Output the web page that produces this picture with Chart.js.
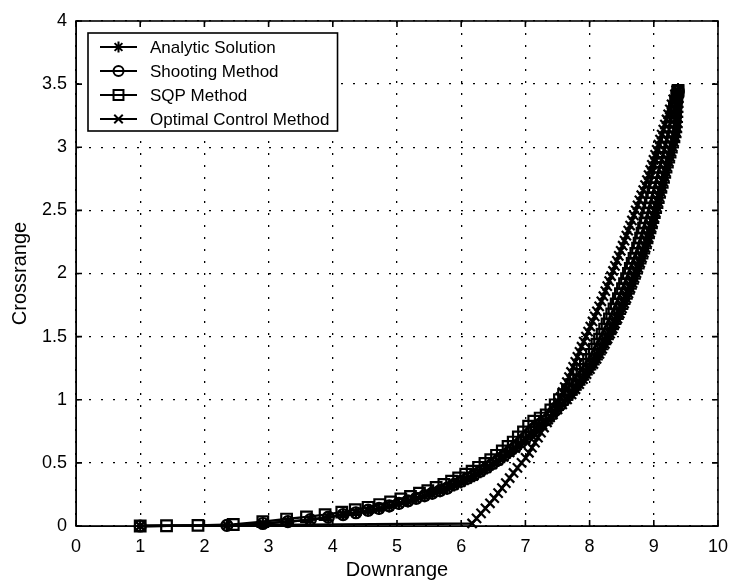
<!DOCTYPE html>
<html>
<head>
<meta charset="utf-8">
<script src="https://cdn.jsdelivr.net/npm/chart.js@4.4.1/dist/chart.umd.min.js"></script>
<style>
  html, body { margin: 0; padding: 0; background: #fff; }
  #wrap { width: 730px; height: 586px; }
</style>
</head>
<body>
<div id="wrap"><canvas id="c" width="730" height="586"></canvas></div>
<script>
// ---- data ----
const seriesNames = ['Analytic Solution', 'Shooting Method', 'SQP Method', 'Optimal Control Method'];

const analyticX = [1.00, 2.35, 2.91, 3.30, 3.65, 3.93, 4.16, 4.36, 4.55, 4.72, 4.88, 5.03, 5.17, 5.30, 5.43, 5.55, 5.67, 5.78, 5.89, 6.00, 6.10, 6.20, 6.30, 6.40, 6.49, 6.58, 6.67, 6.76, 6.85, 6.93, 7.01, 7.09, 7.17, 7.27,
  7.360, 7.434, 7.506, 7.579, 7.655, 7.724, 7.785, 7.844, 7.902, 7.957, 8.011, 8.064, 8.114, 8.159, 8.202, 8.244, 8.285, 8.325, 8.364, 8.402, 8.439, 8.475, 8.510, 8.544, 8.578, 8.610, 8.642, 8.674, 8.705, 8.735, 8.764, 8.793, 8.822, 8.850, 8.877, 8.901, 8.924, 8.947, 8.970, 8.992, 9.014, 9.035, 9.056, 9.076, 9.096, 9.117, 9.138, 9.158, 9.177, 9.197, 9.218, 9.239, 9.260, 9.280, 9.300, 9.320, 9.339, 9.350, 9.358, 9.362, 9.366, 9.369, 9.371, 9.373, 9.375, 9.379, 9.378];
const analyticY = [0.00, 0.005, 0.02, 0.035, 0.05, 0.07, 0.09, 0.105, 0.12, 0.135, 0.155, 0.175, 0.195, 0.215, 0.235, 0.255, 0.275, 0.295, 0.32, 0.345, 0.37, 0.395, 0.425, 0.455, 0.485, 0.515, 0.545, 0.58, 0.615, 0.65, 0.685, 0.72, 0.76, 0.80,
  0.84, 0.88, 0.92, 0.96, 1.00, 1.04, 1.08, 1.12, 1.16, 1.20, 1.24, 1.28, 1.32, 1.36, 1.40, 1.44, 1.48, 1.52, 1.56, 1.60, 1.64, 1.68, 1.72, 1.76, 1.80, 1.84, 1.88, 1.92, 1.96, 2.00, 2.04, 2.08, 2.12, 2.16, 2.20, 2.24, 2.28, 2.32, 2.36, 2.40, 2.44, 2.48, 2.52, 2.56, 2.60, 2.64, 2.68, 2.72, 2.76, 2.80, 2.84, 2.88, 2.92, 2.96, 3.00, 3.04, 3.08, 3.12, 3.16, 3.20, 3.24, 3.28, 3.32, 3.36, 3.40, 3.44, 3.45];

const shootingX = [1.00, 2.35, 2.91, 3.30, 3.65, 3.93, 4.16, 4.36, 4.55, 4.72, 4.88, 5.03, 5.17, 5.30, 5.43, 5.55, 5.67, 5.78, 5.89, 6.00, 6.10, 6.20, 6.30, 6.40, 6.49, 6.58, 6.67, 6.76, 6.85, 6.93, 7.01, 7.09, 7.17, 7.25,
  7.330, 7.404, 7.476, 7.544, 7.610, 7.674, 7.735, 7.794, 7.852, 7.907, 7.961, 8.014, 8.064, 8.109, 8.152, 8.194, 8.235, 8.275, 8.314, 8.352, 8.389, 8.425, 8.460, 8.494, 8.528, 8.560, 8.592, 8.624, 8.655, 8.685, 8.714, 8.743, 8.772, 8.800, 8.827, 8.851, 8.874, 8.897, 8.920, 8.942, 8.964, 8.985, 9.006, 9.026, 9.046, 9.067, 9.088, 9.108, 9.127, 9.147, 9.168, 9.189, 9.210, 9.230, 9.250, 9.270, 9.289, 9.308, 9.317, 9.326, 9.335, 9.343, 9.351, 9.359, 9.367, 9.379, 9.378];
const shootingY = [0.00, 0.005, 0.02, 0.035, 0.05, 0.07, 0.09, 0.105, 0.125, 0.14, 0.16, 0.18, 0.20, 0.22, 0.24, 0.26, 0.28, 0.30, 0.33, 0.355, 0.38, 0.405, 0.435, 0.465, 0.495, 0.525, 0.56, 0.595, 0.63, 0.665, 0.70, 0.74, 0.78, 0.81,
  0.84, 0.88, 0.92, 0.96, 1.00, 1.04, 1.08, 1.12, 1.16, 1.20, 1.24, 1.28, 1.32, 1.36, 1.40, 1.44, 1.48, 1.52, 1.56, 1.60, 1.64, 1.68, 1.72, 1.76, 1.80, 1.84, 1.88, 1.92, 1.96, 2.00, 2.04, 2.08, 2.12, 2.16, 2.20, 2.24, 2.28, 2.32, 2.36, 2.40, 2.44, 2.48, 2.52, 2.56, 2.60, 2.64, 2.68, 2.72, 2.76, 2.80, 2.84, 2.88, 2.92, 2.96, 3.00, 3.04, 3.08, 3.12, 3.16, 3.20, 3.24, 3.28, 3.32, 3.36, 3.40, 3.44, 3.45];

const sqpX = [1.00, 1.41, 1.90, 2.45, 2.91, 3.28, 3.59, 3.88, 4.14, 4.35, 4.55, 4.73, 4.90, 5.06, 5.21, 5.35, 5.48, 5.61, 5.73, 5.85, 5.96, 6.07, 6.17, 6.27, 6.37, 6.46, 6.55, 6.64, 6.73, 6.81, 6.89, 6.97, 7.05, 7.13, 7.23,
  7.324, 7.396, 7.464, 7.530, 7.594, 7.655, 7.714, 7.772, 7.827, 7.881, 7.934, 7.984, 8.029, 8.072, 8.114, 8.155, 8.195, 8.234, 8.272, 8.309, 8.345, 8.380, 8.414, 8.448, 8.480, 8.512, 8.544, 8.575, 8.605, 8.634, 8.663, 8.692, 8.720, 8.747, 8.771, 8.794, 8.817, 8.840, 8.862, 8.884, 8.905, 8.926, 8.946, 8.966, 8.987, 9.008, 9.028, 9.047, 9.067, 9.088, 9.109, 9.130, 9.150, 9.170, 9.190, 9.209, 9.228, 9.247, 9.266, 9.285, 9.303, 9.321, 9.339, 9.357, 9.374, 9.378];
const sqpY = [0.00, 0.002, 0.005, 0.012, 0.035, 0.055, 0.072, 0.09, 0.11, 0.13, 0.148, 0.17, 0.19, 0.215, 0.235, 0.26, 0.28, 0.305, 0.33, 0.355, 0.38, 0.41, 0.435, 0.465, 0.495, 0.525, 0.56, 0.595, 0.63, 0.665, 0.705, 0.745, 0.79, 0.83, 0.855,
  0.88, 0.92, 0.96, 1.00, 1.04, 1.08, 1.12, 1.16, 1.20, 1.24, 1.28, 1.32, 1.36, 1.40, 1.44, 1.48, 1.52, 1.56, 1.60, 1.64, 1.68, 1.72, 1.76, 1.80, 1.84, 1.88, 1.92, 1.96, 2.00, 2.04, 2.08, 2.12, 2.16, 2.20, 2.24, 2.28, 2.32, 2.36, 2.40, 2.44, 2.48, 2.52, 2.56, 2.60, 2.64, 2.68, 2.72, 2.76, 2.80, 2.84, 2.88, 2.92, 2.96, 3.00, 3.04, 3.08, 3.12, 3.16, 3.20, 3.24, 3.28, 3.32, 3.36, 3.40, 3.44, 3.45];

const optimalX = [1.00, 6.170, 6.239, 6.309, 6.378, 6.448, 6.515, 6.575, 6.635, 6.695, 6.755, 6.815, 6.876, 6.940, 7.004, 7.055, 7.102, 7.149, 7.196, 7.243, 7.290, 7.337, 7.384, 7.431, 7.478, 7.515, 7.547, 7.580, 7.613, 7.646, 7.679, 7.711, 7.744, 7.777, 7.810, 7.843, 7.875, 7.909, 7.943, 7.977, 8.011, 8.046, 8.080, 8.114, 8.149, 8.183, 8.215, 8.245, 8.275, 8.305, 8.335, 8.365, 8.395, 8.425, 8.455, 8.485, 8.515, 8.544, 8.573, 8.602, 8.631, 8.660, 8.689, 8.718, 8.747, 8.776, 8.805, 8.835, 8.864, 8.893, 8.919, 8.945, 8.970, 8.995, 9.021, 9.046, 9.072, 9.097, 9.123, 9.148, 9.173, 9.199, 9.224, 9.250, 9.277, 9.303, 9.330, 9.350];
const optimalY = [0.00, 0.02, 0.06, 0.10, 0.14, 0.18, 0.22, 0.26, 0.30, 0.34, 0.38, 0.42, 0.46, 0.50, 0.54, 0.58, 0.62, 0.66, 0.70, 0.74, 0.78, 0.82, 0.86, 0.90, 0.94, 0.98, 1.02, 1.06, 1.10, 1.14, 1.18, 1.22, 1.26, 1.30, 1.34, 1.38, 1.42, 1.46, 1.50, 1.54, 1.58, 1.62, 1.66, 1.70, 1.74, 1.78, 1.82, 1.86, 1.90, 1.94, 1.98, 2.02, 2.06, 2.10, 2.14, 2.18, 2.22, 2.26, 2.30, 2.34, 2.38, 2.42, 2.46, 2.50, 2.54, 2.58, 2.62, 2.66, 2.70, 2.74, 2.78, 2.82, 2.86, 2.90, 2.94, 2.98, 3.02, 3.06, 3.10, 3.14, 3.18, 3.22, 3.26, 3.30, 3.34, 3.38, 3.42, 3.45];

const xTickValues = [0, 1, 2, 3, 4, 5, 6, 7, 8, 9, 10];
const xTickLabels = ['0', '1', '2', '3', '4', '5', '6', '7', '8', '9', '10'];
const yTickValues = [0, 0.5, 1, 1.5, 2, 2.5, 3, 3.5, 4];
const yTickLabels = ['0', '0.5', '1', '1.5', '2', '2.5', '3', '3.5', '4'];
const xTitle = 'Downrange';
const yTitle = 'Crossrange';

// ---- styling ----
const FONT = '"Liberation Sans", Arial, Helvetica, sans-serif';
const markerStyles = ['star', 'circle', 'rect', 'crossRot'];
const markerRadius = [6, 5.5, 7.5, 6.5];

function pts(xs, ys) { return xs.map((x, i) => ({ x: x, y: ys[i] })); }

function makeDataset(i, xs, ys) {
  return {
    label: seriesNames[i],
    data: pts(xs, ys),
    showLine: true,
    borderColor: '#000',
    borderWidth: 2.4,
    tension: 0,
    pointStyle: markerStyles[i],
    pointRadius: markerRadius[i],
    pointBorderColor: '#000',
    pointBackgroundColor: 'rgba(0,0,0,0)',
    pointBorderWidth: 2.2,
    clip: false
  };
}

function drawMarker(ctx, style, r, x, y) {
  ctx.beginPath();
  if (style === 'circle') {
    ctx.arc(x, y, r, 0, Math.PI * 2);
  } else if (style === 'rect') {
    const s = r / Math.SQRT2;
    ctx.rect(x - s, y - s, 2 * s, 2 * s);
  } else {
    const d = r * Math.cos(Math.PI / 4);
    ctx.moveTo(x - d, y - d); ctx.lineTo(x + d, y + d);
    ctx.moveTo(x - d, y + d); ctx.lineTo(x + d, y - d);
    if (style === 'star') {
      ctx.moveTo(x - r, y); ctx.lineTo(x + r, y);
      ctx.moveTo(x, y - r); ctx.lineTo(x, y + r);
    }
  }
  ctx.stroke();
}

// box around plot + inward ticks on all four sides
const boxPlugin = {
  id: 'matlabBox',
  afterDraw(chart) {
    const ctx = chart.ctx, a = chart.chartArea;
    const xs = chart.scales.x, ys = chart.scales.y;
    const L = 6;
    ctx.save();
    ctx.strokeStyle = '#000';
    ctx.lineWidth = 1.6;
    ctx.strokeRect(a.left, a.top, a.right - a.left, a.bottom - a.top);
    ctx.beginPath();
    xTickValues.forEach(v => {
      const px = xs.getPixelForValue(v);
      ctx.moveTo(px, a.bottom); ctx.lineTo(px, a.bottom - L);
      ctx.moveTo(px, a.top); ctx.lineTo(px, a.top + L);
    });
    yTickValues.forEach(v => {
      const py = ys.getPixelForValue(v);
      ctx.moveTo(a.left, py); ctx.lineTo(a.left + L, py);
      ctx.moveTo(a.right, py); ctx.lineTo(a.right - L, py);
    });
    ctx.stroke();
    ctx.restore();
  }
};

// MATLAB-like legend box: line sample with marker, then text
const legendPlugin = {
  id: 'matlabLegend',
  afterDraw(chart) {
    const ctx = chart.ctx;
    const left = 88, top = 33, rowH = 24;
    const lineX0 = 100, lineX1 = 137, textX = 150;
    ctx.save();
    ctx.font = '17px ' + FONT;
    let maxW = 0;
    seriesNames.forEach(n => { maxW = Math.max(maxW, ctx.measureText(n).width); });
    const right = textX + maxW + 8;
    const bottom = top + rowH * seriesNames.length + 2;
    ctx.fillStyle = '#fff';
    ctx.fillRect(left, top, right - left, bottom - top);
    ctx.strokeStyle = '#000';
    ctx.lineWidth = 1.6;
    ctx.strokeRect(left, top, right - left, bottom - top);
    seriesNames.forEach((n, i) => {
      const cy = top + 14 + i * rowH;
      ctx.lineWidth = 2.2;
      ctx.beginPath(); ctx.moveTo(lineX0, cy); ctx.lineTo(lineX1, cy); ctx.stroke();
      ctx.lineWidth = 2;
      drawMarker(ctx, markerStyles[i], markerRadius[i] - 0.5, (lineX0 + lineX1) / 2, cy);
      ctx.fillStyle = '#000';
      ctx.textBaseline = 'middle';
      ctx.textAlign = 'left';
      ctx.fillText(n, textX, cy + 1);
    });
    ctx.restore();
  }
};

const chart = new Chart(document.getElementById('c'), {
  type: 'scatter',
  data: {
    datasets: [
      makeDataset(0, analyticX, analyticY),
      makeDataset(1, shootingX, shootingY),
      makeDataset(2, sqpX, sqpY),
      makeDataset(3, optimalX, optimalY)
    ]
  },
  options: {
    responsive: false,
    animation: false,
    devicePixelRatio: 1,
    layout: { padding: { left: 0, right: 12, top: 21, bottom: 0 } },
    plugins: { legend: { display: false }, tooltip: { enabled: false } },
    scales: {
      x: {
        type: 'linear', min: 0, max: 10,
        afterBuildTicks: s => { s.ticks = xTickValues.map(v => ({ value: v })); },
        afterFit: s => { s.height = 60; s.paddingLeft = 0; s.paddingRight = 0; },
        ticks: {
          color: '#000', font: { family: FONT, size: 18 }, padding: 10,
          maxRotation: 0, autoSkip: false,
          callback: (v) => xTickLabels[xTickValues.indexOf(v)]
        },
        grid: { color: '#000', lineWidth: 1.3, drawTicks: false },
        border: { display: true, color: '#000', width: 1, dash: [2, 10] },
        title: { display: true, text: xTitle, color: '#000', font: { family: FONT, size: 20 }, padding: { top: 0, bottom: 4 } }
      },
      y: {
        type: 'linear', min: 0, max: 4,
        afterBuildTicks: s => { s.ticks = yTickValues.map(v => ({ value: v })); },
        afterFit: s => { s.width = 76; },
        ticks: {
          color: '#000', font: { family: FONT, size: 18 }, padding: 9,
          autoSkip: false,
          callback: (v) => yTickLabels[yTickValues.indexOf(v)]
        },
        grid: { color: '#000', lineWidth: 1.3, drawTicks: false },
        border: { display: true, color: '#000', width: 1, dash: [2, 10] },
        title: { display: true, text: yTitle, color: '#000', font: { family: FONT, size: 20 }, padding: { top: 8, bottom: 0 } }
      }
    }
  },
  plugins: [boxPlugin, legendPlugin]
});
</script>
</body>
</html>
